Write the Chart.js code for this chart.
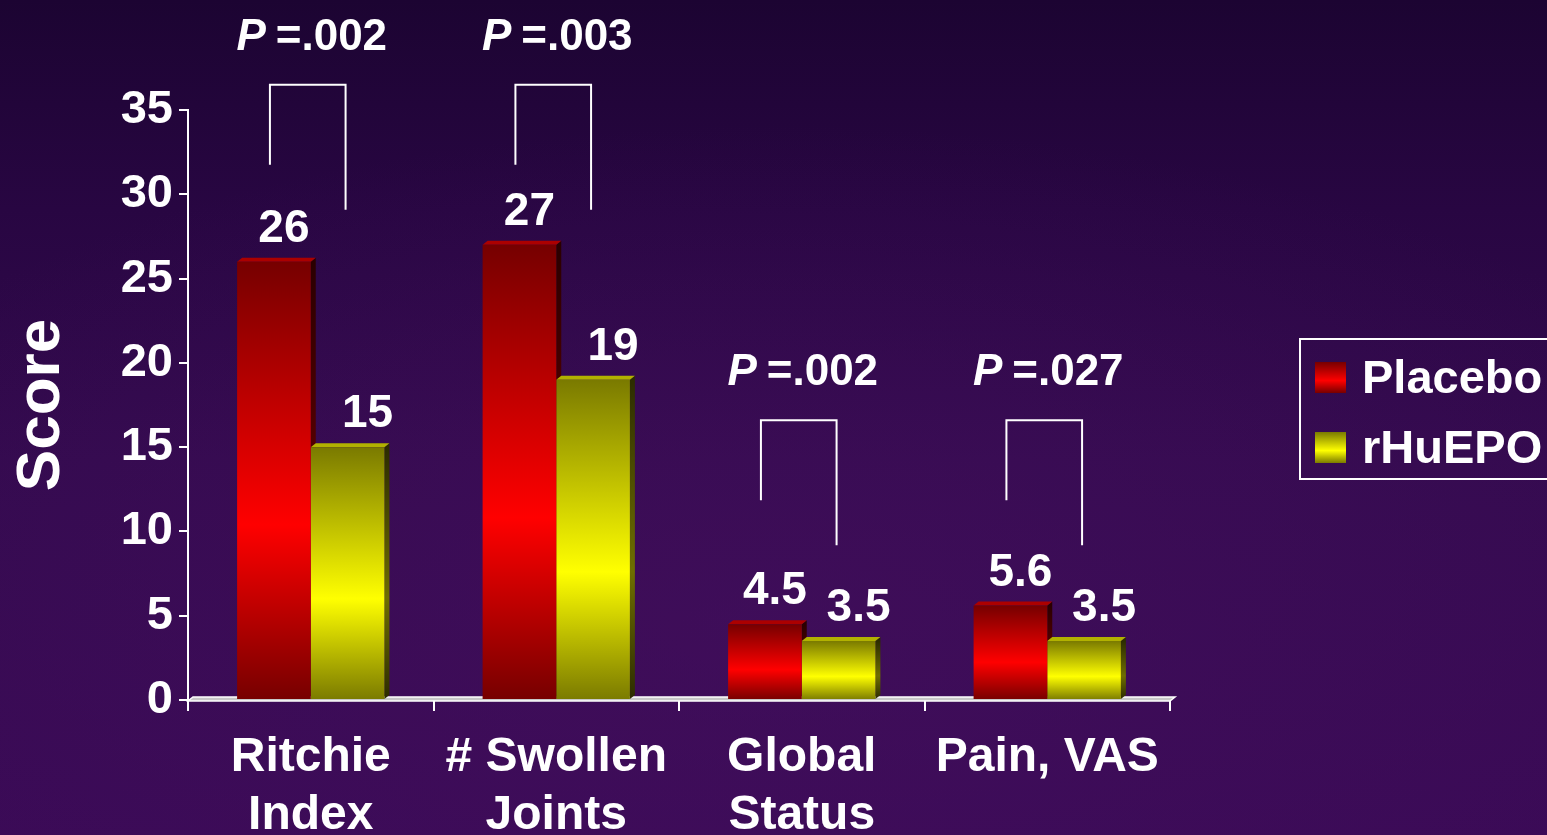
<!DOCTYPE html>
<html>
<head>
<meta charset="utf-8">
<script src="https://cdn.jsdelivr.net/npm/chart.js@4.4.1/dist/chart.umd.min.js"></script>
<style>
  html, body { margin: 0; padding: 0; width: 1547px; height: 835px; overflow: hidden; }
  body {
    background:
      radial-gradient(ellipse 70% 60% at 50% 75%, rgba(70, 16, 96, 0.55) 0%, rgba(70, 16, 96, 0) 100%),
      linear-gradient(180deg, #1c0432 0%, #280642 25%, #330a4e 55%, #3a0a56 100%);
  }
  #wrap { position: relative; width: 1547px; height: 835px; }
</style>
</head>
<body>
<div id="wrap"><canvas id="chart" width="1547" height="835"></canvas></div>
<script>
// ---- data ----
const categories = [['Ritchie', 'Index'], ['# Swollen', 'Joints'], ['Global', 'Status'], ['Pain, VAS']];
const placeboScores = [26, 27, 4.5, 5.6];
const rhuepoScores = [15, 19, 3.5, 3.5];
const seriesNames = ['Placebo', 'rHuEPO'];
const pValues = ['.002', '.003', '.002', '.027'];
const yMin = 0, yMax = 35, yStep = 5;

// ---- look ----
const FONT = "'Liberation Sans', Arial, Helvetica, sans-serif";
const PAL = [
  { dark: '#760000', bright: '#ff0000', sideDark: '#2a0000', sideMid: '#640000', top: '#ac0000' },
  { dark: '#7a7a00', bright: '#ffff00', sideDark: '#2c2c00', sideMid: '#6e6e00', top: '#b2b200' }
];
const DEPTH_X = 5, DEPTH_Y = 4;
// height (in score units) of the significance bracket above each category
const bracketLevels = [36.5, 36.5, 16.6, 16.6];

Chart.defaults.font.family = FONT;

function shadedGradient(g, top, bottom, dark, bright) {
  const grad = g.createLinearGradient(0, top, 0, bottom);
  grad.addColorStop(0, dark);
  grad.addColorStop(0.6, bright);
  grad.addColorStop(1, dark);
  return grad;
}

function barFill(context, pal) {
  const chart = context.chart;
  if (!chart.chartArea || context.type !== 'data') return pal.bright;
  const y = chart.scales.y;
  const top = y.getPixelForValue(context.parsed.y);
  const bottom = y.getPixelForValue(0);
  if (!isFinite(top) || !isFinite(bottom) || top === bottom) return pal.bright;
  return shadedGradient(chart.ctx, top, bottom, pal.dark, pal.bright);
}

// floor slab and the side / top faces of each bar
const depthPlugin = {
  id: 'depth',
  beforeDatasetsDraw(chart) {
    const g = chart.ctx;
    const area = chart.chartArea;
    const base = chart.scales.y.getPixelForValue(0);
    g.save();
    // floor
    g.beginPath();
    g.moveTo(area.left, base + 1);
    g.lineTo(area.right, base + 1);
    g.lineTo(area.right + DEPTH_X, base - DEPTH_Y + 1);
    g.lineTo(area.left + DEPTH_X, base - DEPTH_Y + 1);
    g.closePath();
    g.fillStyle = '#c8c8c8';
    g.fill();
    g.strokeStyle = '#ffffff';
    g.lineWidth = 1.5;
    g.stroke();

    chart.data.datasets.forEach((ds, di) => {
      const pal = PAL[di];
      chart.getDatasetMeta(di).data.forEach(el => {
        const { x, y, base: b, width } = el.getProps(['x', 'y', 'base', 'width'], true);
        const left = x - width / 2, right = x + width / 2;
        // side face
        g.beginPath();
        g.moveTo(right, y);
        g.lineTo(right + DEPTH_X, y - DEPTH_Y);
        g.lineTo(right + DEPTH_X, b - DEPTH_Y);
        g.lineTo(right, b);
        g.closePath();
        g.fillStyle = shadedGradient(g, y, b, pal.sideDark, pal.sideMid);
        g.fill();
        // top face
        g.beginPath();
        g.moveTo(left, y);
        g.lineTo(left + DEPTH_X, y - DEPTH_Y);
        g.lineTo(right + DEPTH_X, y - DEPTH_Y);
        g.lineTo(right, y);
        g.closePath();
        g.fillStyle = pal.top;
        g.fill();
      });
    });
    g.restore();
  }
};

// value labels, significance brackets and legend
const annotatePlugin = {
  id: 'annotate',
  afterDatasetsDraw(chart) {
    const g = chart.ctx;
    const yScale = chart.scales.y;
    g.save();
    g.fillStyle = '#ffffff';
    g.textAlign = 'center';
    g.textBaseline = 'alphabetic';
    g.font = `bold 46px ${FONT}`;
    const labelShift = [10, 20];
    chart.data.datasets.forEach((ds, di) => {
      chart.getDatasetMeta(di).data.forEach((el, i) => {
        const { x, y } = el.getProps(['x', 'y'], true);
        g.fillText(String(ds.data[i]), x + labelShift[di], y - 20);
      });
    });

    // brackets
    const m0 = chart.getDatasetMeta(0).data;
    const m1 = chart.getDatasetMeta(1).data;
    g.strokeStyle = '#ffffff';
    g.lineWidth = 2;
    pValues.forEach((p, i) => {
      const xl = m0[i].x - 4;
      const xr = m1[i].x - 2;
      const top = yScale.getPixelForValue(bracketLevels[i]);
      g.beginPath();
      g.moveTo(xl, top + 80);
      g.lineTo(xl, top);
      g.lineTo(xr, top);
      g.lineTo(xr, top + 125);
      g.stroke();

      // "P =.xxx"
      const fsz = 44;
      g.font = `italic bold ${fsz}px ${FONT}`;
      const wP = g.measureText('P').width;
      g.font = `bold ${fsz}px ${FONT}`;
      const rest = '=' + p;
      const wR = g.measureText(rest).width;
      const gap = 10;
      const total = wP + gap + wR;
      const cx = (xl + xr) / 2 + 4;
      const x0 = cx - total / 2;
      const baseY = top - 35;
      g.textAlign = 'left';
      g.font = `italic bold ${fsz}px ${FONT}`;
      g.fillText('P', x0, baseY);
      g.font = `bold ${fsz}px ${FONT}`;
      g.fillText(rest, x0 + wP + gap, baseY);
    });

    // legend
    const lx = 1300, ly = 339, lw = 270, lh = 140;
    g.strokeStyle = '#ffffff';
    g.lineWidth = 2;
    g.strokeRect(lx, ly, lw, lh);
    g.font = `bold 47px ${FONT}`;
    g.textAlign = 'left';
    g.textBaseline = 'middle';
    chart.data.datasets.forEach((ds, di) => {
      const sy = ly + 23 + di * 70;
      const pal = PAL[di];
      g.fillStyle = shadedGradient(g, sy, sy + 31, pal.dark, pal.bright);
      g.fillRect(lx + 15, sy, 31, 31);
      g.fillStyle = '#ffffff';
      g.fillText(ds.label, lx + 62, sy + 18);
    });
    g.restore();
  }
};

new Chart(document.getElementById('chart'), {
  type: 'bar',
  data: {
    labels: categories,
    datasets: [
      { label: seriesNames[0], data: placeboScores, backgroundColor: c => barFill(c, PAL[0]) },
      { label: seriesNames[1], data: rhuepoScores, backgroundColor: c => barFill(c, PAL[1]) }
    ]
  },
  options: {
    responsive: false,
    animation: false,
    devicePixelRatio: 1,
    layout: { padding: { top: 110, right: 377, left: 0, bottom: 0 } },
    datasets: { bar: { categoryPercentage: 0.6, barPercentage: 1.0, borderWidth: 0 } },
    plugins: { legend: { display: false }, tooltip: { enabled: false } },
    scales: {
      x: {
        grid: { drawOnChartArea: false, drawTicks: true, tickLength: 11, color: '#ffffff', lineWidth: 2, offset: true },
        border: { display: false },
        ticks: { color: '#ffffff', font: { size: 48, weight: 'bold', lineHeight: 1.22 }, padding: 17, maxRotation: 0, autoSkip: false },
        afterFit: s => { s.height = 135; }
      },
      y: {
        min: yMin,
        max: yMax,
        ticks: { stepSize: yStep, color: '#ffffff', font: { size: 47, weight: 'bold' }, padding: 6 },
        grid: { drawOnChartArea: false, tickLength: 9, color: '#ffffff', lineWidth: 2 },
        border: { display: true, color: '#ffffff', width: 2 },
        title: { display: true, text: 'Score', color: '#ffffff', font: { size: 62, weight: 'bold' }, padding: { top: 5, bottom: 0 } },
        afterFit: s => { s.width = 188; }
      }
    }
  },
  plugins: [depthPlugin, annotatePlugin]
});
</script>
</body>
</html>
